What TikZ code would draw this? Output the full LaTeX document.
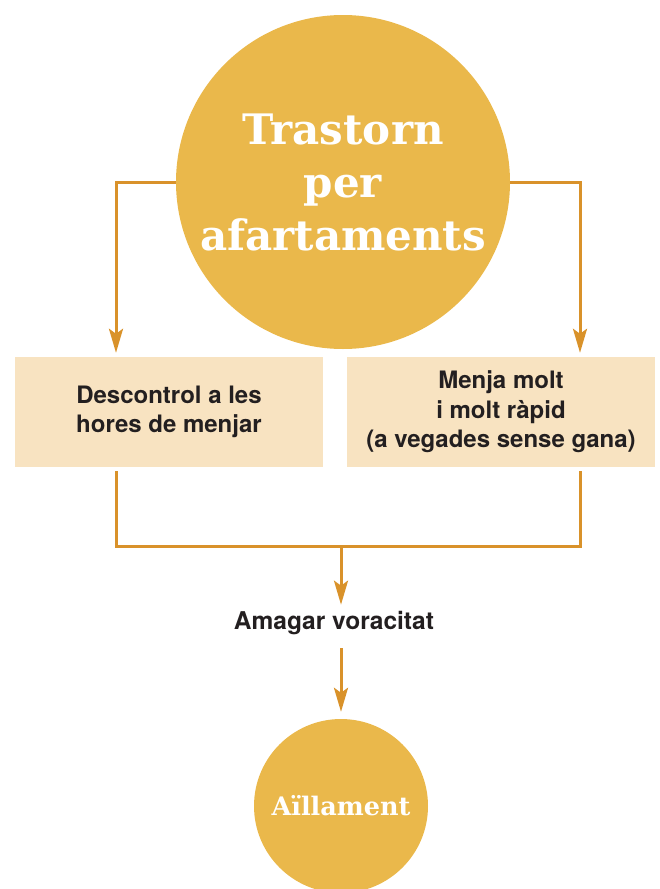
\documentclass[tikz,border=0pt]{standalone}
\usepackage{fontspec}
\setmainfont{TeX Gyre Heros}
\newfontfamily\slabfont{DejaVu Serif}
\usetikzlibrary{arrows.meta}

\definecolor{gold}{HTML}{EAB84B}
\definecolor{cream}{HTML}{F8E3C1}
\definecolor{ochre}{HTML}{D9922A}
\definecolor{ink}{HTML}{231F20}

\tikzset{
  bigdot/.style = {circle, fill=gold, inner sep=0pt, text=white, align=center,
    font=\slabfont\bfseries\fontsize{42}{53}\selectfont},
  boxnote/.style = {rectangle, fill=cream, minimum width=308pt, minimum height=110pt,
    align=center, text=ink, font=\bfseries\fontsize{24}{29.5}\selectfont},
  wire/.style = {draw=ochre, line width=3pt},
  flow/.style = {wire, -{Stealth[length=24pt, width=14pt, inset=5pt]}}
}

\begin{document}
\begin{tikzpicture}[x=1pt, y=-1pt]
      \useasboundingbox (0,0) rectangle (659,889);
      \node[bigdot, minimum size=334pt] (trastorn) at (343,182) {Trastorn\\per\\afartaments};
      \node[boxnote] (descontrol) at (169,412) {Descontrol a les\\hores de menjar};
      \node[boxnote] (menja) at (501,412) {Menja molt\\i molt ràpid\\(a vegades sense gana)};
      \node[text=ink, font=\bfseries\fontsize{24.5}{28}\selectfont] (amagar) at (334,623) {Amagar voracitat};
      \node[bigdot, minimum size=174pt, font=\slabfont\bfseries\fontsize{25.5}{30}\selectfont] (aillament) at (341,806) {Aïllament};
      \coordinate (join) at (341,546);
      % branches from the top circle
      \draw[flow, shorten >=4pt] (trastorn.west) -| ([xshift=-53pt]descontrol.north);
      \draw[flow, shorten >=4pt] (trastorn.east) -| ([xshift=79pt]menja.north);
      % merge under the boxes
      \draw[wire, shorten <=4pt] ([xshift=-53pt]descontrol.south) |- (join);
      \draw[wire, shorten <=4pt] ([xshift=79pt]menja.south) |- (join);
      \draw[flow, shorten >=3pt] (join) -- (join |- amagar.north);
      \draw[flow, shorten <=10pt, shorten >=7pt] (amagar.south -| join) -- (aillament.north);
    \end{tikzpicture}
\end{document}
